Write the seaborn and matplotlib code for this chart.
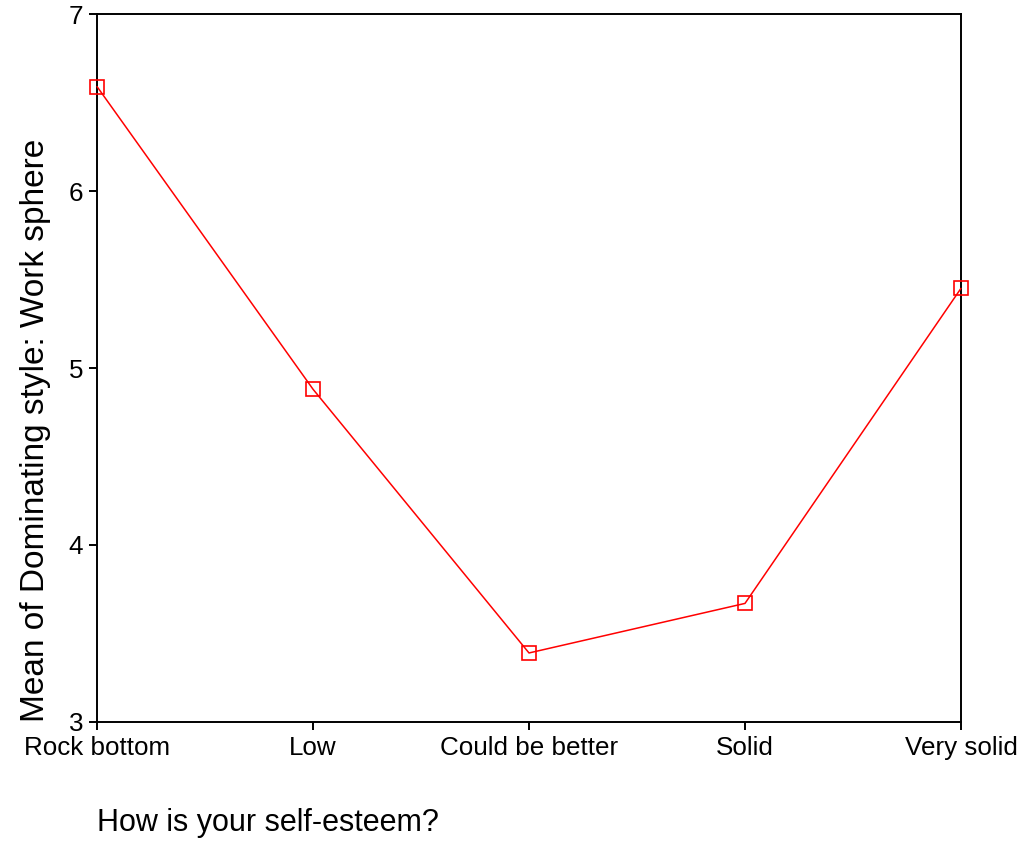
import pandas as pd
import matplotlib
matplotlib.use('Agg')
import matplotlib.pyplot as plt
import seaborn as sns

# Data
categories = ['Rock bottom', 'Low', 'Could be better', 'Solid', 'Very solid']
means = [6.59, 4.88, 3.39, 3.67, 5.45]

df = pd.DataFrame({'esteem': categories, 'mean': means})

sns.set_style('white')
plt.rcParams['font.family'] = ['Liberation Sans', 'DejaVu Sans']

fig = plt.figure(figsize=(10.27, 8.5), dpi=100)
ax = fig.add_axes([0.0945, 0.1506, 0.8412, 0.8329])

sns.lineplot(data=df, x='esteem', y='mean', sort=False, ax=ax,
             color='#ff0000', linewidth=1.1, marker='s', markersize=10.5,
             markerfacecolor='none', markeredgecolor='#ff0000',
             markeredgewidth=1.2, clip_on=False, zorder=5)

ax.set_xlim(0, len(categories) - 1)
ax.set_ylim(3, 7)
ax.set_yticks([3, 4, 5, 6, 7])

for s in ax.spines.values():
    s.set_color('black')
    s.set_linewidth(1.4)
    s.set_visible(True)

ax.tick_params(axis='both', direction='out', length=6, width=1.4,
               color='black', labelsize=18.7, labelcolor='black', pad=4)
ax.tick_params(axis='x', bottom=True)
ax.tick_params(axis='y', left=True)

ax.set_xlabel('How is your self-esteem?', fontsize=22, loc='left',
              labelpad=35, color='black')
ax.set_ylabel('Mean of Dominating style: Work sphere', fontsize=24,
              loc='bottom', labelpad=13, color='black')

fig.savefig('out.png', dpi=100, facecolor='white')
